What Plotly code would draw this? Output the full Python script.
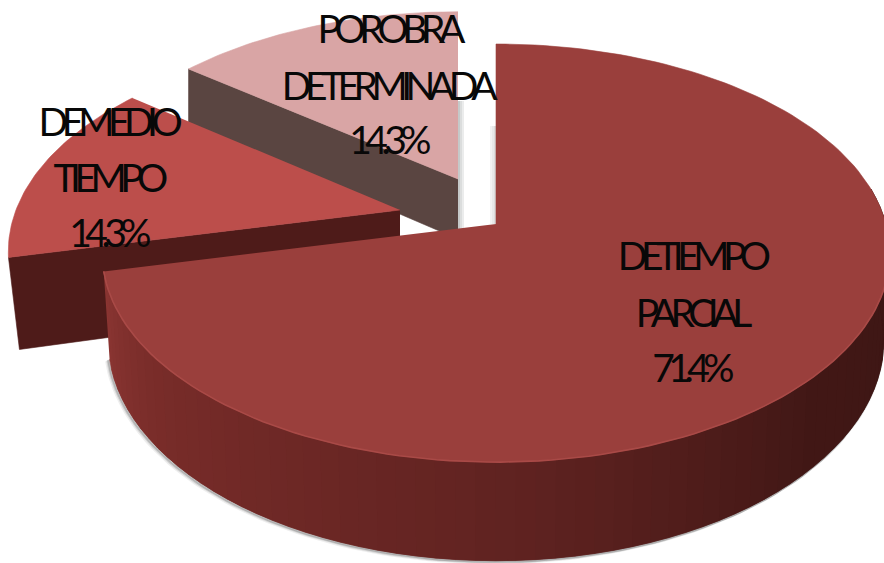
import numpy as np
import plotly.graph_objects as go

# ---- data ----
categories = ["DE TIEMPO PARCIAL", "DE MEDIO TIEMPO", "POR OBRA DETERMINADA"]
values = [71.4, 14.3, 14.3]
label_lines = [["DE TIEMPO", "PARCIAL"], ["DE MEDIO", "TIEMPO"], ["POR OBRA", "DETERMINADA"]]

# ---- perspective view of each (exploded) slice, in page pixels ----
VIEW = [
    dict(cx=496, cy=224, W=390, h=205, c=0.139, D=85, sf=0.985),
    dict(cx=400, cy=210, W=384, h=202, c=0.197, D=88, sf=0.972),
    dict(cx=458, cy=179, W=380, h=195, c=0.166, D=60, sf=1.0),
]
TOP = ["#9a3f3c", "#bc4e4b", "#d9a5a5"]
WALL = [None, "#4e1b19", "#5a4541"]
LABEL_POS = [[(691, 255), (690, 312), (690, 367)],
             [(107, 121), (107, 177), (107, 232)],
             [(388, 28), (386, 85), (387, 139)]]
FONT = dict(family="Lato, Liberation Sans", size=39, color="#080808")

total = sum(values)
edges = np.cumsum([0] + values) / total * 2 * np.pi
th = [(edges[i], edges[i + 1]) for i in range(len(values))]


def proj(v, t, bottom=False):
    t = np.asarray(t, dtype=float)
    s, d = np.sin(t), np.cos(t)
    k = 1 + v["c"] * d
    f = v["sf"] if bottom else 1.0
    x = v["cx"] + v["W"] * f * s / k
    y = v["cy"] - v["h"] * d / k + (v["D"] / k if bottom else 0)
    return x, y


def apex(v, bottom=False):
    return v["cx"], v["cy"] + (v["D"] if bottom else 0)


def poly(x, y, color):
    return go.Scatter(x=list(x), y=list(y), mode="lines", fill="toself", fillcolor=color,
                      line=dict(color=color, width=0.6), hoverinfo="skip", showlegend=False)


def soft_line(x, y, color, width):
    return go.Scatter(x=list(x), y=list(y), mode="lines", line=dict(color=color, width=width),
                      hoverinfo="skip", showlegend=False)


def lerp_color(stops, u):
    pos = [p for p, _ in stops]
    rgb = [np.interp(u, pos, [c[i] for _, c in stops]) for i in range(3)]
    return "rgb(%d,%d,%d)" % tuple(rgb)


fig = go.Figure()

# soft shadow around the main body
v = VIEW[0]
ts = np.linspace(th[0][1], np.radians(80), 120)
bx, by = proj(v, ts, bottom=True)
for off, alpha in [(5, 0.10), (3, 0.18), (1.5, 0.3)]:
    fig.add_trace(soft_line(bx - off * 0.6, by + off * 0.4, "rgba(90,90,90,%.2f)" % alpha, 3))

# far slices: cut face + top
for i in (2, 1):
    v = VIEW[i]
    t_cut = th[i][0]
    ax, ay = apex(v)
    bax, bay = apex(v, True)
    tx, ty = proj(v, t_cut)
    btx, bty = proj(v, t_cut, True)
    if i == 2:
        # grey shading right of the far slice, in the gap
        for off, alpha in [(5, 0.12), (3, 0.22), (1, 0.35)]:
            fig.add_trace(soft_line([ax + off, ax + off], [ay - 78, bay - 8],
                                    "rgba(90,100,100,%.2f)" % alpha, 2))
    fig.add_trace(poly([ax, tx, btx, bax], [ay, ty, bty, bay], WALL[i]))
    ts = np.linspace(th[i][0], th[i][1], 50)
    x, y = proj(v, ts)
    fig.add_trace(poly(np.r_[ax, x], np.r_[ay, y], TOP[i]))

# main slice: shading on the gap side of its straight edge
v = VIEW[0]
ax, ay = apex(v)
for off, alpha in [(7, 0.08), (5, 0.14), (3, 0.22), (1, 0.32)]:
    fig.add_trace(soft_line([ax - off + 2, ax - off + 2], [ay - 98, ay], "rgba(90,100,100,%.2f)" % alpha, 2))

# main slice: curved side as shaded, overlapping strips
side = np.linspace(th[0][1], np.radians(80), 70)
stops = [(0.0, (139, 53, 50)), (0.12, (122, 45, 42)), (0.45, (96, 35, 33)),
         (0.7, (66, 24, 22)), (1.0, (60, 22, 20))]
for j in range(len(side) - 1):
    seg = side[j:j + 3]
    x0, y0 = proj(v, seg)
    x1, y1 = proj(v, seg[::-1], True)
    fig.add_trace(poly(np.r_[x0, x1], np.r_[y0, y1], lerp_color(stops, j / (len(side) - 2))))

# main slice: top face + lighter rim
ts = np.linspace(th[0][0], th[0][1], 160)
x, y = proj(v, ts)
fig.add_trace(poly(np.r_[ax, x], np.r_[ay, y], TOP[0]))
rim = ts[ts > np.radians(100)]
rx, ry = proj(v, rim)
fig.add_trace(soft_line(rx, ry, "#a94a47", 1.6))

# labels
for i in range(len(values)):
    lines = label_lines[i] + ["%s%%" % values[i]]
    for txt, (px, py) in zip(lines, LABEL_POS[i]):
        fig.add_annotation(x=px, y=py, text=txt, showarrow=False, font=FONT,
                           xanchor="center", yanchor="middle")

fig.update_layout(width=884, height=563, margin=dict(l=0, r=0, t=0, b=0),
                  paper_bgcolor="white", plot_bgcolor="white", showlegend=False,
                  xaxis=dict(range=[0, 884], visible=False, fixedrange=True),
                  yaxis=dict(range=[563, 0], visible=False, fixedrange=True))

PAGE_CSS = ("document.body.style.margin='0';"
            "var s=document.createElement('style');"
            "s.textContent='.annotation-text{letter-spacing:-6.5px;word-spacing:-3px;"
            "-webkit-text-stroke:0.7px #080808;}';"
            "document.head.appendChild(s);")
fig.write_html("out.html", config=dict(displayModeBar=False), post_script=PAGE_CSS)
